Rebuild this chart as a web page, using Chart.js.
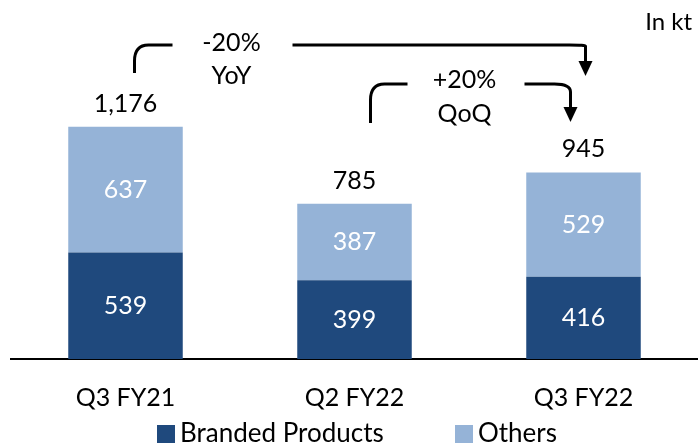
<!DOCTYPE html>
<html><head><meta charset="utf-8">
<script src="https://cdn.jsdelivr.net/npm/chart.js@4"></script>
<style>html,body{margin:0;padding:0;background:#fff}#wrap{width:698px;height:446px;position:relative}</style>
</head><body><div id="wrap"><canvas id="c" width="698" height="446"></canvas></div>
<script>
const categories = ["Q3 FY21", "Q2 FY22", "Q3 FY22"];
const branded = [539, 399, 416];
const others = [637, 387, 529];
const totals = ["1,176", "785", "945"];
const seriesNames = ["Branded Products", "Others"];
const yoyText = ["-20%", "YoY"];
const qoqText = ["+20%", "QoQ"];
const unitText = "In kt";

const FONT = "Lato, 'Open Sans', sans-serif";
const DARK = "#1F497D";
const LIGHT = "#95B3D7";

const labelsPlugin = {
  id: "labels",
  afterDatasetsDraw(chart) {
    const ctx = chart.ctx;
    const x = chart.scales.x, y = chart.scales.y;
    ctx.save();
    ctx.textAlign = "center";
    ctx.textBaseline = "middle";
    ctx.font = "25px " + FONT;
    chart.data.datasets.forEach((ds, di) => {
      const meta = chart.getDatasetMeta(di);
      meta.data.forEach((bar, i) => {
        ctx.fillStyle = "#ffffff";
        ctx.fillText(String(ds.data[i]), bar.x, (bar.y + bar.base) / 2);
      });
    });
    ctx.fillStyle = "#000";
    categories.forEach((c, i) => {
      const tot = branded[i] + others[i];
      ctx.fillText(totals[i], x.getPixelForValue(i), y.getPixelForValue(tot) - 23);
    });
    // unit
    ctx.textAlign = "right";
    ctx.font = "24px " + FONT;
    ctx.fillText(unitText, 692, 22);

    // annotations
    const c0 = x.getPixelForValue(0), c1 = x.getPixelForValue(1), c2 = x.getPixelForValue(2);
    ctx.strokeStyle = "#000";
    ctx.lineWidth = 3;
    ctx.lineCap = "butt";
    function bracket(xs, yBot, yLine, xEnd) {
      ctx.beginPath();
      ctx.moveTo(xs, yBot);
      ctx.lineTo(xs, yLine + 16);
      ctx.quadraticCurveTo(xs, yLine, xs + 14, yLine);
      ctx.lineTo(xEnd, yLine);
      ctx.stroke();
    }
    function arrow(xs, yLine, xTip, yTip) {
      ctx.beginPath();
      ctx.moveTo(xs, yLine);
      ctx.lineTo(xTip - 16, yLine);
      ctx.quadraticCurveTo(xTip, yLine, xTip, yTip - 30);
      ctx.lineTo(xTip, yTip - 14);
      ctx.stroke();
      ctx.beginPath();
      ctx.moveTo(xTip - 7, yTip - 15);
      ctx.lineTo(xTip + 7, yTip - 15);
      ctx.lineTo(xTip, yTip);
      ctx.closePath();
      ctx.fillStyle = "#000";
      ctx.fill();
    }
    // YoY
    bracket(c0 + 9, 73, 45, c0 + 47);
    arrow(c0 + 167, 45, c2 + 2, 76);
    // QoQ
    bracket(c1 + 16, 123, 84, c1 + 53);
    arrow(c1 + 170, 84, c2 - 13, 122);
    ctx.textAlign = "center";
    ctx.font = "25px " + FONT;
    ctx.fillStyle = "#000";
    ctx.fillText(yoyText[0], c0 + 106, 43);
    ctx.fillText(yoyText[1], c0 + 106, 76);
    ctx.fillText(qoqText[0], c1 + 110, 80);
    ctx.fillText(qoqText[1], c1 + 110, 114);

    // legend
    const legX = [157, 455];
    const legCol = [DARK, LIGHT];
    ctx.textAlign = "left";
    ctx.font = "26px " + FONT;
    seriesNames.forEach((n, i) => {
      ctx.fillStyle = legCol[i];
      ctx.fillRect(legX[i], 425, 18, 18);
      ctx.fillStyle = "#000";
      ctx.fillText(n, legX[i] + 23, 434);
    });
    ctx.restore();
  }
};

new Chart(document.getElementById("c"), {
  type: "bar",
  data: {
    labels: categories,
    datasets: [
      { label: seriesNames[0], data: branded, backgroundColor: DARK, categoryPercentage: 1, barPercentage: 0.5 },
      { label: seriesNames[1], data: others, backgroundColor: LIGHT, categoryPercentage: 1, barPercentage: 0.5 }
    ]
  },
  options: {
    responsive: false,
    animation: false,
    layout: { padding: { left: 11, right: -5, top: 0, bottom: 9 } },
    plugins: {
      legend: { display: false },
      tooltip: { enabled: false }
    },
    scales: {
      x: {
        stacked: true,
        grid: { display: false, drawTicks: false },
        border: { display: true, color: "#000", width: 2 },
        ticks: { color: "#000", font: { family: FONT, size: 25 }, padding: 24 }
      },
      y: {
        stacked: true,
        display: false,
        min: 0,
        max: 1818
      }
    }
  },
  plugins: [labelsPlugin]
});
</script></body></html>
